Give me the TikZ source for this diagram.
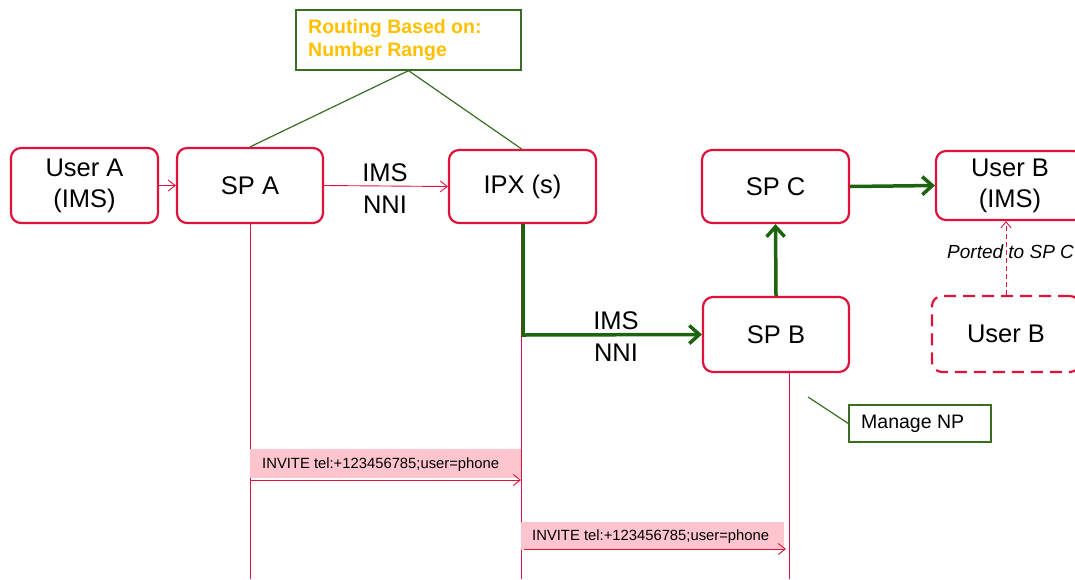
\documentclass[tikz,border=0pt]{standalone}
\usepackage{fontspec}
\setmainfont{Liberation Sans}
\usetikzlibrary{arrows.meta}
\definecolor{rd}{RGB}{222,18,58}
\definecolor{gn}{RGB}{56,110,36}
\definecolor{dg}{RGB}{28,100,14}
\definecolor{pk}{RGB}{255,197,206}
\definecolor{yl}{RGB}{255,192,0}
\begin{document}
\begin{tikzpicture}[x=1pt,y=-1pt,
  ent/.style={draw=rd,line width=2.2pt,rounded corners=10pt,align=center,inner sep=0pt,font=\fontsize{25.5}{31}\selectfont},
  note/.style={draw=gn,line width=1.3pt,inner sep=0pt},
  thin/.style={draw=rd,line width=0.9pt,-{Straight Barb[length=7pt,width=11pt]}},
  thick/.style={draw=dg,line width=3.5pt,-{Straight Barb[length=10pt,width=18pt,line width=3.5pt]}},
  life/.style={draw=rd,line width=1pt},
  lbl/.style={font=\fontsize{25.5}{31}\selectfont,align=left,inner sep=0pt},
  msg/.style={fill=pk,inner sep=0pt,anchor=north west}]
\useasboundingbox (0,0) rectangle (1075,579);
% notes
\node[note,minimum width=225pt,minimum height=60pt] (rt) at (408.5,40) {};
\node[anchor=west,align=left,text=yl,font=\bfseries\fontsize{19.5}{23}\selectfont,inner sep=0pt] (rtt) at (308,40) {Routing Based on:\\Number Range};
% entities
\node[ent,minimum width=147pt,minimum height=75pt] (ua) at (84.5,185.5) {User A\\(IMS)};
\node[ent,minimum width=146pt,minimum height=75pt] (spa) at (250,185.5) {SP A};
\node[ent,minimum width=147pt,minimum height=73pt] (ipx) at (522.5,186.5) {IPX (s)};
\node[ent,minimum width=147pt,minimum height=73pt] (spc) at (775.5,186.5) {SP C};
\node[ent,minimum width=148pt,minimum height=69pt] (ubi) at (1010,185.5) {User B\\(IMS)};
\node[ent,minimum width=146pt,minimum height=75pt] (spb) at (776,334.5) {SP B};
\node[ent,dashed,dash pattern=on 12pt off 7pt,minimum width=148pt,minimum height=76pt] (ub) at (1006,334) {User B};
\node[note,minimum width=142pt,minimum height=37pt] (np) at (920,423.5) {};
\node[anchor=west,inner sep=0pt,font=\fontsize{19.5}{22}\selectfont] (npt) at (861,424) {Manage NP};
% routing note lines
\draw[gn,line width=1.2pt] (rt.south) -- (spa.north);
\draw[gn,line width=1.2pt] (rt.south) -- ([xshift=-1pt]ipx.north);
% manage np line
\coordinate (npc) at (808,397);
\draw[gn,line width=1.2pt] (npc) -- (np.west);
% lifelines
\coordinate (la) at (250,579);
\coordinate (li) at (521,579);
\coordinate (lb) at (789,579);
\draw[life] (spa.south) -- (la);
\draw[life] ([xshift=-1.5pt]ipx.south) -- (li);
\draw[life] (spb.south -| lb) -- (lb);
% arrows
\draw[thin] (ua.east) -- (spa.west);
\draw[thin] (spa.east) -- (ipx.west);
\node[lbl] (n1) at (385,173) {IMS};
\node[lbl] (n2) at (385,205) {NNI};
\coordinate (bend) at (523,335);
\draw[thick] ([xshift=0.5pt]ipx.south) -- (bend) -- (spb.west);
\node[lbl] (n3) at (616,321) {IMS};
\node[lbl] (n4) at (616,353) {NNI};
\draw[thick] (spb.north) -- (spc.south);
\draw[thick] (spc.east) -- (ubi.west);
\draw[draw=rd,line width=0.9pt,dash pattern=on 5pt off 3pt,-{Straight Barb[length=6pt,width=10pt]}] (ub.north) -- (ub.north |- ubi.south);
\node[anchor=west,inner sep=0pt,font=\itshape\fontsize{19}{22}\selectfont] (pt) at (947,252) {Ported to SP C};
% messages
\node[msg,minimum width=271pt,minimum height=29pt] (m1) at (250,449) {};
\node[anchor=west,inner sep=0pt,font=\fontsize{14.8}{17}\selectfont] (m1t) at (262,465) {INVITE tel:+123456785;user=phone};
\coordinate (m1a) at (250,480);
\coordinate (m1b) at (521,480);
\draw[thin] (m1a) -- (m1b);
\node[msg,minimum width=263pt,minimum height=28pt] (m2) at (521,522) {};
\node[anchor=west,inner sep=0pt,font=\fontsize{14.8}{17}\selectfont] (m2t) at (532,537) {INVITE tel:+123456785;user=phone};
\coordinate (m2a) at (524,549);
\coordinate (m2b) at (786,549);
\draw[thin] (m2a) -- (m2b);
\end{tikzpicture}
\end{document}
